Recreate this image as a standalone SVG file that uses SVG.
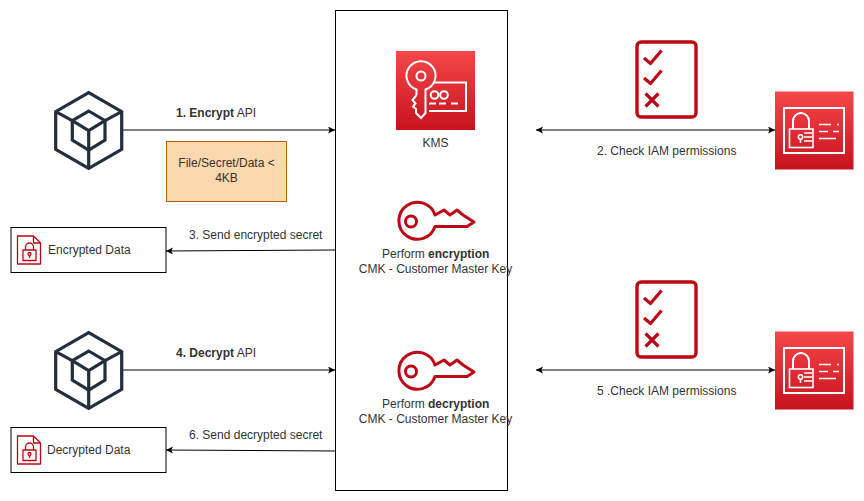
<svg xmlns="http://www.w3.org/2000/svg" xmlns:xlink="http://www.w3.org/1999/xlink" width="864" height="501" viewBox="0 0 864 501">
<style>
text{font-family:"Liberation Sans",Arial,sans-serif;font-size:12px;fill:#333}
.m{text-anchor:middle}
.box{fill:#fff;stroke:#000;stroke-width:1}
.conn{fill:none;stroke:#000;stroke-width:1}
.cube{fill:none;stroke:#232F3E;stroke-width:3.2;stroke-linejoin:miter}
.red{fill:none;stroke:#BF0816;stroke-width:3;stroke-linejoin:round;stroke-linecap:round}
.wh{fill:none;stroke:#fff;stroke-width:2;stroke-linejoin:miter}
</style>
<defs>
<linearGradient id="g" x1="0" y1="0" x2="0" y2="1"><stop offset="0" stop-color="#F54749"/><stop offset="1" stop-color="#C7131F"/></linearGradient>
<marker id="a" markerWidth="8" markerHeight="8" refX="7" refY="3.5" orient="auto-start-reverse" markerUnits="userSpaceOnUse"><path d="M0 0L7 3.500L0 7L1.700 3.500Z" fill="#000"/></marker>
<g id="cubeI" class="cube">
<path d="M88.700 92.700L121.700 111.700V149.300L88.700 168.300L55.700 149.300V111.700Z"/>
<path d="M88.700 111L105 120.700V140L88.700 150L72.300 140V120.700Z"/>
<path d="M72.300 120.700L88.700 130.700L105 120.700M88.700 130.700V168.300M55.700 111.700L72.300 120.700M121.700 111.700L105 120.700"/>
</g>
<g id="checkI" class="red">
<rect x="637" y="42" width="59" height="75" rx="4" stroke-width="3.4"/>
<path d="M644 58L650.500 63.500L661.500 50.500M644 78L650.500 83.500L661.500 70.500M645.500 93.500L658.500 106.500M658.500 93.500L645.500 106.500" stroke-width="3.200" stroke-linecap="butt"/>
</g>
<g id="iamI">
<rect x="775" y="91.500" width="78.500" height="78" fill="url(#g)"/>
<g class="wh">
<rect x="784" y="108" width="60" height="45"/>
<rect x="789.500" y="129" width="23.500" height="18.500" stroke-width="1.600"/>
<path d="M793 129V121A8 8 0 0 1 809 121V129"/>
<circle cx="800.500" cy="137" r="2.200" stroke-width="1.500"/>
<path d="M800.500 139V143M804 133H812M804 137H812M804 141H812M819 124.500H831M837 124.500H839M819 131.500H828M833 131.500H839M819 138.500H836" stroke-width="1.600"/>
</g>
</g>
<g id="keyI" class="red">
<path d="M435 215L444 210L450 215L457 210L463 215L474 222L467 226.500H435A18.500 18.500 0 1 1 435 215Z"/>
<circle cx="411" cy="221.500" r="5.500"/>
</g>
<g id="docI" fill="none" stroke="#BF0816" stroke-width="1.300" stroke-linejoin="round">
<path d="M17.500 236H33.500L40.500 243V264H17.500Z"/><path d="M33.500 236V243H40.500"/>
<rect x="23" y="250" width="13" height="10.500"/>
<path d="M25.500 250V247A4 4 0 0 1 33.500 247V250"/>
<circle cx="29.500" cy="254" r="1.500"/><path d="M29.500 255.500V258"/>
</g>
</defs>

<g id="connectors">
<path class="conn" d="M122 130H335" marker-end="url(#a)"/>
<path class="conn" d="M335 250L166 251" marker-end="url(#a)"/>
<path class="conn" d="M122 370H335" marker-end="url(#a)"/>
<path class="conn" d="M335 451L166 450" marker-end="url(#a)"/>
<path class="conn" d="M536 130H775" marker-start="url(#a)" marker-end="url(#a)"/>
<path class="conn" d="M536 370H775" marker-start="url(#a)" marker-end="url(#a)"/>
</g>

<g id="kms-panel"><rect class="box" x="335.500" y="10.500" width="172" height="480"/></g>

<g id="kms">
<rect x="396" y="51" width="79" height="79" fill="url(#g)"/>
<g class="wh" stroke-width="2.200">
<path d="M433 82.500H466V111H429"/>
<path d="M416.500 89.500A14.500 14.500 0 1 1 425.500 89.500V113L421 118L416 113V109L413 106.500L415.500 103.500L412.500 100L415.500 96.500L416.500 94Z"/>
<circle cx="421" cy="76" r="4.500"/>
<circle cx="434.500" cy="95" r="3.800"/><circle cx="444" cy="95" r="3.800"/>
<path d="M429 103.500H436M439 103.500H446M451 103.500H458"/>
</g>
<text class="m" x="435.500" y="147">KMS</text>
</g>

<g id="perform-encryption">
<use href="#keyI"/>
<text x="382" y="258">Perform <tspan font-weight="bold">encryption</tspan></text>
<text class="m" x="435.500" y="273">CMK - Customer Master Key</text>
</g>
<g id="perform-decryption">
<use href="#keyI" y="150"/>
<text x="382" y="408">Perform <tspan font-weight="bold">decryption</tspan></text>
<text class="m" x="435.500" y="423">CMK - Customer Master Key</text>
</g>

<g id="client-encrypt"><use href="#cubeI"/></g>
<g id="client-decrypt"><use href="#cubeI" y="240"/></g>

<g id="payload">
<rect x="166.500" y="141.500" width="120" height="60" fill="#FAD7AC" stroke="#B46504"/>
<text class="m" x="226.500" y="167">File/Secret/Data &lt;</text>
<text class="m" x="226.500" y="182">4KB</text>
</g>

<g id="encrypted-data">
<rect class="box" x="11" y="227.500" width="155" height="45"/>
<use href="#docI"/>
<text x="48" y="254">Encrypted Data</text>
</g>
<g id="decrypted-data">
<rect class="box" x="11" y="427.500" width="155" height="45"/>
<use href="#docI" y="200"/>
<text x="47" y="454">Decrypted Data</text>
</g>

<g id="check-1"><use href="#checkI"/></g>
<g id="check-2"><use href="#checkI" y="240"/></g>
<g id="iam-1"><use href="#iamI"/></g>
<g id="iam-2"><use href="#iamI" y="240"/></g>

<g id="labels">
<text x="176" y="117"><tspan font-weight="bold">1. Encrypt</tspan> API</text>
<text x="597" y="155">2. Check IAM permissions</text>
<text x="189" y="239">3. Send encrypted secret</text>
<text x="176" y="357"><tspan font-weight="bold">4. Decrypt</tspan> API</text>
<text x="597" y="395">5 .Check IAM permissions</text>
<text x="189" y="439">6. Send decrypted secret</text>
</g>
</svg>
